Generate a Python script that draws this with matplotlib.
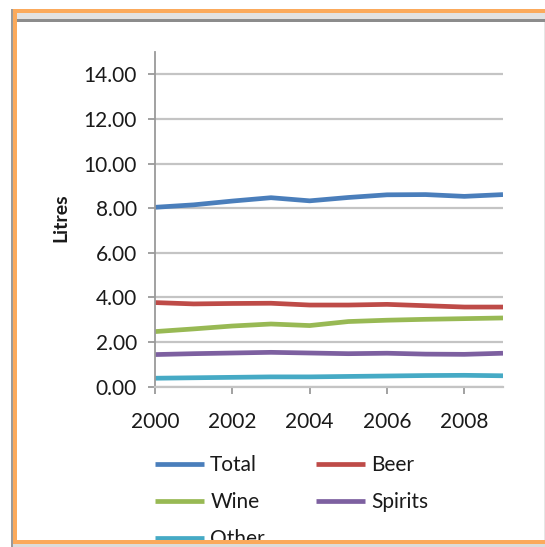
import matplotlib
matplotlib.use("Agg")
import matplotlib.pyplot as plt
from matplotlib.patches import Rectangle

plt.rcParams['font.family'] = ['Lato', 'DejaVu Sans']

years = [2000, 2001, 2002, 2003, 2004, 2005, 2006, 2007, 2008, 2009]
total = [8.04, 8.15, 8.32, 8.47, 8.33, 8.48, 8.60, 8.61, 8.53, 8.61]
beer = [3.77, 3.71, 3.73, 3.74, 3.66, 3.66, 3.69, 3.63, 3.57, 3.57]
wine = [2.47, 2.59, 2.72, 2.81, 2.74, 2.92, 2.98, 3.02, 3.05, 3.08]
spirits = [1.44, 1.48, 1.51, 1.54, 1.51, 1.48, 1.50, 1.46, 1.45, 1.50]
other = [0.38, 0.40, 0.42, 0.44, 0.44, 0.46, 0.48, 0.50, 0.51, 0.49]

series = [
    ("Total", total, "#4a7ebb"),
    ("Beer", beer, "#be4b48"),
    ("Wine", wine, "#98b954"),
    ("Spirits", spirits, "#7d60a0"),
    ("Other", other, "#46aac5"),
]

W, H = 545, 547
fig = plt.figure(figsize=(W / 100, H / 100), dpi=100)


def px(x0, y0, x1, y1):
    # pixel box (top-left origin) -> figure fraction rectangle
    return (x0 / W, 1 - y1 / H), (x1 - x0) / W, (y1 - y0) / H


def band(x0, y0, x1, y1, color, z=0):
    xy, w, h = px(x0, y0, x1, y1)
    fig.add_artist(Rectangle(xy, w, h, transform=fig.transFigure,
                             facecolor=color, edgecolor="none", zorder=z))


# slide frame; the bottom strip sits over the legend's last row
band(0, 0, W, H, "white", -1)
band(11, 9, 13, H, "#9a9a9a")
band(13, 9, W, 13, "#fbaa5c")
band(16, 13, W, 19, "#e2e2e2")
band(16, 19, W, 22, "#8c8c8c")
band(13, 9, 16.5, 544, "#fbaa5c")
band(W - 1.5, 22, W, 540, "#e6e6e6")
band(13, 540, W, 544, "#fbaa5c", 10)
band(13, 544, W, H, "#dcdcdc", 10)

xy, w, h = px(155, 52, 503, 386.7)
ax = fig.add_axes([xy[0], xy[1], w, h])
ax.set_facecolor("none")

lines = {}
for name, vals, col in series:
    lines[name], = ax.plot(years, vals, color=col, lw=3.4, label=name,
                           solid_capstyle="butt")

ax.set_xlim(2000, 2009)
ax.set_ylim(0, 15)
ax.set_yticks([0, 2, 4, 6, 8, 10, 12, 14])
ax.set_yticklabels(["%.2f" % v for v in ax.get_yticks()])
ax.set_xticks([2000, 2002, 2004, 2006, 2008])
ax.grid(axis="y", color="#c4c4c4", lw=1.6)
ax.set_axisbelow(True)

for s in ["top", "right"]:
    ax.spines[s].set_visible(False)
ax.spines["left"].set_color("#9a9a9a")
ax.spines["bottom"].set_color("#c4c4c4")
ax.spines["left"].set_linewidth(1.3)
ax.spines["bottom"].set_linewidth(1.6)

ax.tick_params(axis="y", length=5, width=1.3, color="#9a9a9a", pad=8,
               labelsize=15, labelcolor="#1a1a1a")
ax.tick_params(axis="x", length=5, width=1.3, color="#9a9a9a", pad=13,
               labelsize=15, labelcolor="#1a1a1a")

fig.text(60.5 / W, 1 - 218 / H, "Litres", rotation=90, ha="center", va="center",
         fontsize=14, fontweight="bold", color="#1a1a1a")

# legend filled row by row: Total/Beer, Wine/Spirits, Other
order = ["Total", "Wine", "Other", "Beer", "Spirits"]
leg = ax.legend([lines[n] for n in order], order,
                loc="upper left", bbox_to_anchor=(155 / W, 1 - 455 / H),
                bbox_transform=fig.transFigure, ncol=2, frameon=False,
                fontsize=15, handlelength=2.35, handletextpad=0.3,
                columnspacing=2.47, labelspacing=0.82, borderpad=0,
                borderaxespad=0)
for t in leg.get_texts():
    t.set_color("#1a1a1a")
for ln in leg.get_lines():
    ln.set_linewidth(3.4)

fig.savefig("out.png", dpi=100)
